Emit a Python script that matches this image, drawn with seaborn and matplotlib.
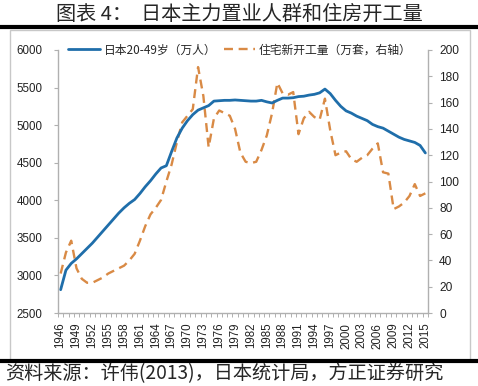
import numpy as np
import pandas as pd
import matplotlib
matplotlib.use("Agg")
import matplotlib.pyplot as plt
import seaborn as sns
from matplotlib.lines import Line2D
from matplotlib.patches import Rectangle
from matplotlib.ticker import MultipleLocator, FixedLocator

years = list(range(1946, 2016))

# 日本20-49岁人口 (万人), left axis
pop_20_49 = [2810, 3070, 3160, 3220, 3290, 3360, 3430, 3510, 3590, 3670,
             3750, 3830, 3900, 3960, 4010, 4090, 4180, 4260, 4350, 4430,
             4460, 4650, 4830, 4960, 5060, 5140, 5200, 5230, 5260, 5320,
             5325, 5330, 5330, 5335, 5330, 5325, 5320, 5320, 5330, 5310,
             5295, 5330, 5360, 5360, 5365, 5380, 5385, 5400, 5410, 5430,
             5480, 5420, 5330, 5250, 5190, 5160, 5120, 5090, 5060, 5010,
             4980, 4960, 4920, 4880, 4840, 4810, 4790, 4770, 4730, 4630]

# 住宅新开工量 (万套), right axis
housing_starts = [30, 46, 55, 34, 26, 23, 23, 25, 27, 30,
                  32, 34, 36, 40, 45, 55, 66, 75, 80, 86,
                  100, 113, 130, 145, 150, 155, 187, 165, 126, 148,
                  154, 152, 150, 140, 122, 115, 114, 115, 124, 135,
                  152, 175, 167, 166, 168, 136, 148, 153, 149, 147,
                  163, 139, 120, 122, 123, 117, 115, 118, 120, 125,
                  129, 107, 106, 79, 81, 84, 89, 98, 89, 91]

title = "图表 4：  日本主力置业人群和住房开工量"
source = "资料来源：许伟(2013)，日本统计局，方正证券研究"
label_pop = "日本20-49岁（万人）"
label_hs = "住宅新开工量（万套，右轴）"

df = pd.DataFrame({"year": years, "pop": pop_20_49, "hs": housing_starts})

sns.set_style("white")
plt.rcParams["font.family"] = ["Noto Sans CJK SC", "DejaVu Sans"]

blue = "#1f6eaa"
orange = "#d98a45"
axis_grey = "#b0b0b0"

fig = plt.figure(figsize=(4.78, 3.86), dpi=100)
ax = fig.add_axes([58 / 478, 1 - 313 / 386, 370 / 478, 263 / 386])
ax2 = ax.twinx()

sns.lineplot(data=df, x="year", y="pop", ax=ax, color=blue, lw=2.0,
             label=label_pop, legend=False)
sns.lineplot(data=df, x="year", y="hs", ax=ax2, color=orange, lw=1.7,
             linestyle=(0, (3.8, 2.4)), label=label_hs, legend=False)

ax.set_xlim(1945.5, 2015.5)
ax.set_ylim(2500, 6000)
ax2.set_ylim(0, 200)
ax.yaxis.set_major_locator(MultipleLocator(500))
ax2.yaxis.set_major_locator(MultipleLocator(20))
ax.set_xticks(years[::3])
ax.xaxis.set_minor_locator(FixedLocator(np.arange(1945.5, 2016, 1)))
ax.set_xlabel("")
ax.set_ylabel("")
ax2.set_ylabel("")

tick_font = {"family": "Liberation Sans", "size": 8.3}
ax.set_xticklabels([str(y) for y in years[::3]], rotation=90, **tick_font)
for t in ax.get_yticklabels():
    t.set_fontfamily("Liberation Sans")
    t.set_fontsize(8.3)
for t in ax2.get_yticklabels():
    t.set_fontfamily("Liberation Sans")
    t.set_fontsize(8.6)

for a in (ax, ax2):
    for s in a.spines.values():
        s.set_visible(False)
ax.spines["left"].set_visible(True)
ax.spines["bottom"].set_visible(True)
ax2.spines["right"].set_visible(True)
for s in (ax.spines["left"], ax.spines["bottom"], ax2.spines["right"]):
    s.set_color(axis_grey)
    s.set_linewidth(1.0)

ax.tick_params(axis="y", which="major", length=3, width=0.8, color=axis_grey,
               pad=8, labelcolor="#222222")
ax2.tick_params(axis="y", which="major", length=3, width=0.8, color=axis_grey,
                pad=5, labelcolor="#222222")
ax.tick_params(axis="x", which="major", length=0, pad=7, labelcolor="#222222")
ax.tick_params(axis="x", which="minor", bottom=True, length=3, width=0.7,
               color=axis_grey)

handles = [Line2D([], [], color=blue, lw=2.0),
           Line2D([], [], color=orange, lw=1.7, linestyle=(0, (3.8, 2.4)))]
leg = ax.legend(handles, [label_pop, label_hs], loc="center",
                bbox_to_anchor=(0.492, 1.0), ncol=2, frameon=False,
                fontsize=8.5, handlelength=2.7, handletextpad=0.3,
                columnspacing=0.6)
ax.set_zorder(ax2.get_zorder() + 1)
ax.patch.set_visible(False)

# page decorations
fig.text(0.5, 1 - 14 / 386, title, ha="center", va="center", fontsize=14.5)
fig.add_artist(Line2D([0, 1], [1 - 27 / 386] * 2, color="black", lw=3))
fig.add_artist(Line2D([0, 1], [1 - 361 / 386] * 2, color="black", lw=3))
fig.add_artist(Rectangle((10 / 478, 1 - 360 / 386), 460 / 478, 330 / 386,
                         fill=False, edgecolor="#c8c8c8", lw=1.0))
fig.text(5 / 478, 1 - 374 / 386, source, ha="left", va="center", fontsize=13.8)

fig.savefig("out.png", dpi=100)
